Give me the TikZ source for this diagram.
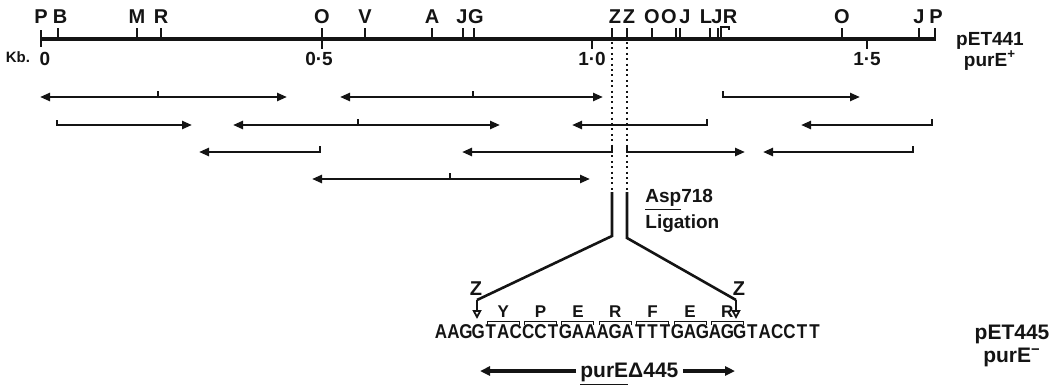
\documentclass[tikz,border=0pt]{standalone}
\usepackage{fontspec}
\setmainfont{Liberation Sans}
\usepackage{xcolor}
\usepackage{tikz}
\usetikzlibrary{positioning, arrows.meta, calc}
\definecolor{mapInk}{HTML}{141414}
\tikzset{
  site/.style={anchor=base, inner sep=0pt, text=mapInk, font=\fontsize{10}{11}\selectfont\bfseries},
  kblabel/.style={inner sep=0pt, text=mapInk, font=\fontsize{9.5}{10}\selectfont\bfseries},
  maptick/.style={draw=mapInk, line width=0.8pt},
  mapbar/.style={draw=mapInk, line width=2.2pt},
  transcript/.style={draw=mapInk, line width=1.2pt, -{Triangle[length=5pt, width=4pt]}},
  bitranscript/.style={draw=mapInk, line width=1.2pt, {Triangle[length=5pt, width=4pt]}-{Triangle[length=5pt, width=4pt]}},
  cutline/.style={draw=mapInk, line width=1.1pt, dash pattern=on 1pt off 1.7pt},
  joinline/.style={draw=mapInk, line width=1.3pt},
  dropmark/.style={draw=mapInk, line width=0.9pt, -{Triangle[open, length=4.5pt, width=4.5pt]}},
  nucleotide/.style={anchor=base, inner sep=0pt, text=mapInk, font=\fontsize{10}{11}\selectfont\bfseries},
  residue/.style={anchor=base, inner sep=0pt, text=mapInk, font=\fontsize{8.5}{9}\selectfont\bfseries},
  codonbr/.style={draw=mapInk, line width=0.5pt},
  plasmid/.style={align=center, inner sep=0pt, text=mapInk, font=\fontsize{9.5}{10.5}\selectfont\bfseries},
  genearrow/.style={draw=mapInk, line width=1.6pt, -{Triangle[length=5pt, width=4.5pt]}},
  note/.style={anchor=west, align=left, inner sep=0pt, text=mapInk, font=\fontsize{9.5}{13}\selectfont\bfseries}
}

\begin{document}
\begin{tikzpicture}[x=0.5pt, y=-0.5pt]
  \useasboundingbox (0,0) rectangle (1058,386);
  % restriction map of pET441
  \draw[mapbar] (41,39) -- (936,39);
  \node[site] (sP1) at (41,23) {P};  \draw[maptick] (41,30) -- (41,47);
  \node[site] (sB) at (60,23) {B};   \draw[maptick] (58,28) -- (58,39);
  \node[site] (sM) at (137,23) {M};  \draw[maptick] (137,28) -- (137,39);
  \node[site] (sR1) at (161,23) {R}; \draw[maptick] (161,28) -- (161,39);
  \node[site] (sO1) at (322,23) {O}; \draw[maptick] (322,28) -- (322,39);
  \node[site] (sV) at (365,23) {V};  \draw[maptick] (365,28) -- (365,39);
  \node[site] (sA) at (432,23) {A};  \draw[maptick] (432,28) -- (432,39);
  \node[site] (sJ1) at (462,23) {J}; \draw[maptick] (463,28) -- (463,39);
  \node[site] (sG) at (476,23) {G};  \draw[maptick] (474,28) -- (474,39);
  \node[site] (sZ1) at (615,23) {Z}; \draw[maptick] (612,28) -- (612,39);
  \node[site] (sZ2) at (629,23) {Z}; \draw[maptick] (627,28) -- (627,39);
  \node[site] (sO2) at (652,23) {O}; \draw[maptick] (652,28) -- (652,39);
  \node[site] (sO3) at (669,23) {O}; \draw[maptick] (676,28) -- (676,39);
  \node[site] (sJ2) at (685,23) {J}; \draw[maptick] (680,28) -- (680,39);
  \node[site] (sL) at (706,23) {L};  \draw[maptick] (710,28) -- (710,39);
  \node[site] (sJ3) at (717,23) {J}; \draw[maptick] (718,28) -- (718,39);
  \node[site] (sR2) at (730,23) {R}; \draw[maptick] (721,39) -- (721,27) -- (729,27) -- (729,30);
  \node[site] (sO4) at (842,23) {O}; \draw[maptick] (842,28) -- (842,39);
  \node[site] (sJ4) at (919,23) {J}; \draw[maptick] (919,28) -- (919,39);
  \node[site] (sP2) at (936,23) {P}; \draw[maptick] (935,28) -- (935,39);

  % kilobase scale
  \node[kblabel, font=\fontsize{7.5}{8}\selectfont\bfseries] (kb) at (18,57) {Kb.};
  \node[kblabel] (k0) at (45,59) {0};
  \node[kblabel] (k05) at (319,59) {0·5};   \draw[maptick] (322,39) -- (322,49);
  \node[kblabel] (k10) at (592,59) {1·0};   \draw[maptick] (592,39) -- (592,49);
  \node[kblabel] (k15) at (867,59) {1·5};   \draw[maptick] (867,39) -- (867,49);

  \node[plasmid] (p441) at (990,51) {pET441\\purE\textsuperscript{+}};

  % transcripts
  \coordinate (r1a) at (40,97);   \coordinate (r1b) at (287,97);
  \draw[bitranscript] (r1a) -- (r1b); \draw[maptick] (158,97) -- (158,91);
  \coordinate (r1c) at (340,97);  \coordinate (r1d) at (603,97);
  \draw[bitranscript] (r1c) -- (r1d); \draw[maptick] (473,97) -- (473,91);
  \coordinate (r1e) at (723,97);  \coordinate (r1f) at (860,97);
  \draw[transcript] ([yshift=3pt]r1e) -- (r1e) -- (r1f);

  \coordinate (r2a) at (57,125);  \coordinate (r2b) at (192,125);
  \draw[transcript] ([yshift=2.5pt]r2a) -- (r2a) -- (r2b);
  \coordinate (r2c) at (233,125); \coordinate (r2d) at (500,125);
  \draw[bitranscript] (r2c) -- (r2d); \draw[maptick] (358,125) -- (358,119);
  \coordinate (r2e) at (707,125); \coordinate (r2f) at (572,125);
  \draw[transcript] ([yshift=3pt]r2e) -- (r2e) -- (r2f);
  \coordinate (r2g) at (932,125); \coordinate (r2h) at (801,125);
  \draw[transcript] ([yshift=3pt]r2g) -- (r2g) -- (r2h);

  \coordinate (r3a) at (320,152); \coordinate (r3b) at (199,152);
  \draw[transcript] ([yshift=3pt]r3a) -- (r3a) -- (r3b);
  \coordinate (r3c) at (612,152); \coordinate (r3d) at (462,152);
  \draw[transcript] ([yshift=3pt]r3c) -- (r3c) -- (r3d);
  \coordinate (r3e) at (627,152); \coordinate (r3f) at (745,152);
  \draw[transcript] ([yshift=3pt]r3e) -- (r3e) -- (r3f);
  \coordinate (r3g) at (913,152); \coordinate (r3h) at (763,152);
  \draw[transcript] ([yshift=3pt]r3g) -- (r3g) -- (r3h);

  \coordinate (r4a) at (312,179); \coordinate (r4b) at (590,179);
  \draw[bitranscript] (r4a) -- (r4b); \draw[maptick] (450,179) -- (450,173);

  % Z sites joined after Asp718 cut
  \coordinate (cutL) at (612,42);  \coordinate (ligL) at (612,192);
  \coordinate (cutR) at (627,42);  \coordinate (ligR) at (627,192);
  \draw[cutline] (cutL) -- (ligL);
  \draw[cutline] (cutR) -- (ligR);
  \coordinate (bendL) at (612,236); \coordinate (footL) at (477,300); \coordinate (siteL) at (477,319);
  \coordinate (bendR) at (627,238); \coordinate (footR) at (736,300); \coordinate (siteR) at (736,319);
  \draw[joinline] (ligL) -- (bendL) -- (footL);
  \draw[joinline] (ligR) -- (bendR) -- (footR);
  \draw[dropmark] (footL) -- (siteL);
  \draw[dropmark] (footR) -- (siteR);
  \node[site] (zL) at (476,295) {Z};
  \node[site] (zR) at (739,295) {Z};
  \node[note] (asp) at (645,211) {\underline{Asp}718\\Ligation};

  % junction sequence of pET445
  \foreach \nt [count=\i from 0] in {A,A,G,G,T,A,C,C,C,T,G,A,A,A,G,A,T,T,T,G,A,G,A,G,G,T,A,C,C,T,T}
    \node[nucleotide] (nt\i) at ({441+12.45*\i},338) {\scalebox{0.85}[1]{\nt}};
  \foreach \aa [count=\k from 0] in {Y,P,E,R,F,E,R} {
    \pgfmathsetmacro\xm{441+12.45*(3*\k+5)}
    \draw[codonbr] (\xm-16,325) -- (\xm-16,321) -- (\xm+16,321) -- (\xm+16,325);
    \node[residue] (aa\k) at (\xm,317) {\aa};
  }

  \node[plasmid, font=\fontsize{10.5}{11.5}\selectfont\bfseries] (p445) at (1012,346) {pET445\\purE\textsuperscript{−}};

  % deletion extent
  \node[anchor=base west, inner sep=0pt, text=mapInk, font=\fontsize{10.5}{12}\selectfont\bfseries] (gene) at (580,377) {\underline{purE}Δ445};
  \coordinate (geneL) at (480,371);
  \coordinate (geneR) at (735,371);
  \draw[genearrow] ([xshift=-2pt,yshift=3pt]gene.base west) -- (geneL);
  \draw[genearrow] ([xshift=2pt,yshift=3pt]gene.base east) -- (geneR);
\end{tikzpicture}
\end{document}
